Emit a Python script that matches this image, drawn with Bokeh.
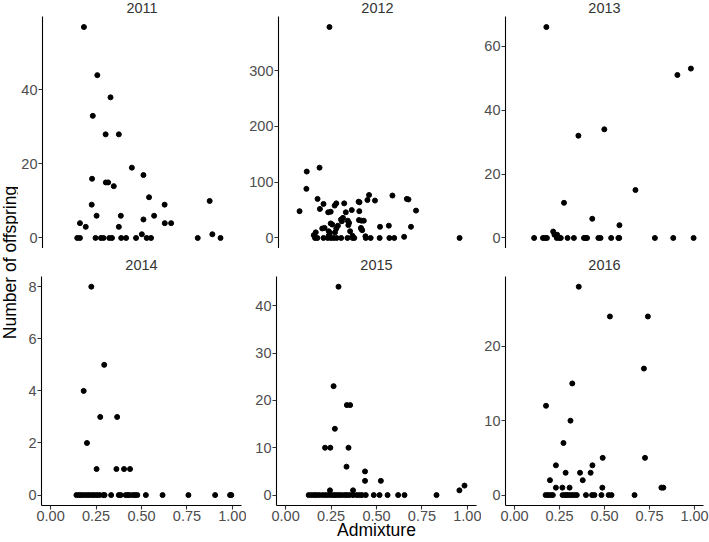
import math

from bokeh.plotting import figure
from bokeh.layouts import row, column
from bokeh.models import Range1d, FixedTicker, NumeralTickFormatter, Label
from bokeh.embed import file_html
from bokeh.resources import INLINE

# ---- data: admixture proportion vs number of offspring, one panel per year ----
adm_2011 = [0.179, 0.253, 0.326, 0.228, 0.299, 0.372, 0.444, 0.508, 0.224, 0.300,
            0.313, 0.344, 0.539, 0.874, 0.222, 0.625, 0.249, 0.383, 0.567, 0.508,
            0.157, 0.626, 0.661, 0.189, 0.372, 0.499, 0.889,
            0.142, 0.157, 0.243, 0.273, 0.287, 0.319, 0.334, 0.385, 0.412, 0.467,
            0.526, 0.550, 0.808, 0.934]
off_2011 = [57, 44, 38, 33, 28, 28, 19, 17, 16, 15,
            15, 14, 11, 10, 9, 9, 6, 6, 6, 5,
            4, 4, 4, 3, 3, 1, 1,
            0, 0, 0, 0, 0, 0, 0, 0, 0, 0,
            0, 0, 0, 0]

adm_2012 = [0.233, 0.178, 0.107, 0.105, 0.583, 0.453, 0.663, 0.672, 0.167, 0.444,
            0.486, 0.395, 0.400, 0.271, 0.315, 0.200, 0.262, 0.180, 0.357, 0.714,
            0.067, 0.399, 0.226, 0.240, 0.324,
            0.308, 0.297, 0.397, 0.335, 0.411, 0.424, 0.302, 0.342, 0.240, 0.249,
            0.338, 0.280, 0.563, 0.514, 0.686, 0.206, 0.408, 0.193, 0.271, 0.410,
            0.415, 0.229, 0.348, 0.157, 0.264, 0.236, 0.146, 0.229, 0.361, 0.433,
            0.648,
            0.153, 0.166, 0.200, 0.224, 0.242, 0.257, 0.273, 0.298, 0.333, 0.362,
            0.371, 0.435, 0.462, 0.512, 0.566, 0.593, 0.956]
off_2012 = [378, 126, 119, 88, 76, 77, 70, 69, 70, 68,
            67, 65, 64, 62, 62, 61, 58, 52, 50, 49,
            48, 48, 46, 47, 46,
            36, 33, 32, 31, 31, 31, 30, 27, 26, 24,
            23, 22, 22, 20, 20, 18, 18, 17, 17, 16,
            14, 12, 12, 10, 10, 9, 5, 4, 4, 3,
            2,
            0, 0, 0, 0, 0, 0, 0, 0, 0, 0,
            0, 0, 0, 0, 0, 0, 0]

adm_2013 = [0.177, 0.355, 0.499, 0.905, 0.980, 0.672, 0.275, 0.432, 0.583, 0.215,
            0.222, 0.237,
            0.109, 0.158, 0.170, 0.180, 0.235, 0.249, 0.257, 0.295, 0.330, 0.386,
            0.395, 0.403, 0.466, 0.478, 0.537, 0.577, 0.582, 0.780, 0.882, 0.995]
off_2013 = [66, 32, 34, 51, 53, 15, 11, 6, 4, 2,
            1, 1,
            0, 0, 0, 0, 0, 0, 0, 0, 0, 0,
            0, 0, 0, 0, 0, 0, 0, 0, 0, 0]

adm_2014 = [0.224, 0.295, 0.182, 0.273, 0.366, 0.200, 0.253, 0.362, 0.404, 0.437,
            0.142, 0.155, 0.168, 0.182, 0.197, 0.211, 0.226, 0.240, 0.255, 0.270,
            0.290, 0.297, 0.333, 0.375, 0.386, 0.413, 0.424, 0.435, 0.452, 0.464,
            0.477, 0.524, 0.616, 0.758, 0.905, 0.987, 0.994]
off_2014 = [8, 5, 4, 3, 3, 2, 1, 1, 1, 1,
            0, 0, 0, 0, 0, 0, 0, 0, 0, 0,
            0, 0, 0, 0, 0, 0, 0, 0, 0, 0,
            0, 0, 0, 0, 0, 0, 0]

adm_2015 = [0.291, 0.264, 0.271, 0.337, 0.355, 0.217, 0.246, 0.346, 0.335, 0.437,
            0.437, 0.524, 0.244, 0.371, 0.956, 0.984,
            0.127, 0.142, 0.157, 0.171, 0.186, 0.204, 0.220, 0.235, 0.251, 0.266,
            0.279, 0.293, 0.308, 0.324, 0.337, 0.352, 0.371, 0.391, 0.406, 0.420,
            0.441, 0.485, 0.517, 0.561, 0.619, 0.654, 0.830]
off_2015 = [44, 23, 14, 19, 19, 10, 10, 10, 6, 5,
            3, 3, 1, 1, 1, 2,
            0, 0, 0, 0, 0, 0, 0, 0, 0, 0,
            0, 0, 0, 0, 0, 0, 0, 0, 0, 0,
            0, 0, 0, 0, 0, 0, 0]

adm_2016 = [0.357, 0.530, 0.741, 0.719, 0.321, 0.175, 0.311, 0.272, 0.490, 0.725,
            0.230, 0.433, 0.364, 0.284, 0.423, 0.197, 0.379, 0.230, 0.266, 0.306,
            0.488, 0.816, 0.827,
            0.173, 0.186, 0.200, 0.213, 0.267, 0.281, 0.292, 0.305, 0.319, 0.333,
            0.346, 0.397, 0.431, 0.444, 0.483, 0.523, 0.539, 0.667]
off_2016 = [28, 24, 24, 17, 15, 12, 10, 7, 5, 5,
            4, 4, 3, 3, 3, 2, 2, 1, 1, 1,
            1, 1, 1,
            0, 0, 0, 0, 0, 0, 0, 0, 0, 0,
            0, 0, 0, 0, 0, 0, 0, 0]

years = ["2011", "2012", "2013", "2014", "2015", "2016"]
y_ticks = {
    "2011": [0, 20, 40],
    "2012": [0, 100, 200, 300],
    "2013": [0, 20, 40, 60],
    "2014": [0, 2, 4, 6, 8],
    "2015": [0, 10, 20, 30, 40],
    "2016": [0, 10, 20],
}
x_ticks = [0.0, 0.25, 0.5, 0.75, 1.0]
x_label = "Admixture"
y_label = "Number of offspring"

FONT = "Liberation Sans"


def style_axis(ax):
    ax.axis_line_color = "black"
    ax.axis_line_width = 1.1
    ax.major_tick_line_color = "#333333"
    ax.major_tick_line_width = 1.1
    ax.major_tick_in = 0
    ax.major_tick_out = 4
    ax.minor_tick_line_color = None
    ax.major_label_text_color = "#4d4d4d"
    ax.major_label_text_font = FONT
    ax.major_label_text_font_size = "14.5px"
    ax.major_label_standoff = 1


def panel(year, adm, off, width, left, right, strip_h, panel_h, bottom, bottom_row):
    """One facet: the frame holds a strip of strip_h px for the year label
    on top of a panel_h px data area; the y axis line is bounded to the data."""
    lo, hi = min(off), max(off)
    pad = 0.05 * (hi - lo)
    y0, y1 = lo - pad, hi + pad
    y_top = y1 + strip_h * (y1 - y0) / panel_h
    p = figure(
        width=width, height=strip_h + panel_h + bottom,
        x_range=Range1d(-0.05, 1.05), y_range=Range1d(y0, y_top),
        toolbar_location=None, output_backend="svg",
        x_axis_location="below" if bottom_row else None,
        min_border_left=left, min_border_right=right,
        min_border_top=0, min_border_bottom=bottom,
    )
    p.outline_line_color = None
    p.grid.visible = False

    p.scatter(adm, off, size=5, color="black")

    style_axis(p.yaxis[0])
    p.yaxis[0].ticker = FixedTicker(ticks=y_ticks[year])
    p.yaxis[0].bounds = (y0, y1)
    if bottom_row:
        style_axis(p.xaxis[0])
        p.xaxis[0].ticker = FixedTicker(ticks=x_ticks)
        p.xaxis[0].formatter = NumeralTickFormatter(format="0.00")

    # facet strip label above the data area
    p.add_layout(Label(
        x=0.5, y=y1, y_offset=11 if bottom_row else 9, text=year,
        text_align="center", text_baseline="middle",
        text_font=FONT, text_font_size="14.5px", text_color="#333333",
    ))
    return p


data = {
    "2011": (adm_2011, off_2011), "2012": (adm_2012, off_2012),
    "2013": (adm_2013, off_2013), "2014": (adm_2014, off_2014),
    "2015": (adm_2015, off_2015), "2016": (adm_2016, off_2016),
}

# column geometry: (figure width, left border, right border); frames are 200 px
cols = [(228, 23, 5), (235, 30, 5), (228, 22, 6)]

top_row = []
bottom_row = []
for i, yr in enumerate(years):
    w, l, r = cols[i % 3]
    adm, off = data[yr]
    if i < 3:
        top_row.append(panel(yr, adm, off, w, l, r, 16, 232, 0, False))
    else:
        bottom_row.append(panel(yr, adm, off, w, l, r, 28, 231, 35, True))

# shared x-axis title under the middle bottom panel
mid = bottom_row[1]
mid.xaxis[0].axis_label = x_label
mid.xaxis[0].axis_label_standoff = -4
mid.xaxis[0].axis_label_text_font = FONT
mid.xaxis[0].axis_label_text_font_size = "17.5px"
mid.xaxis[0].axis_label_text_font_style = "normal"
mid.xaxis[0].axis_label_text_color = "black"

# strip holding the shared y-axis title
yfig = figure(
    width=18, height=542, x_range=Range1d(0, 18), y_range=Range1d(0, 542),
    toolbar_location=None, output_backend="svg",
    x_axis_location=None, y_axis_location=None, min_border=0,
)
yfig.outline_line_color = None
yfig.grid.visible = False
yfig.add_layout(Label(
    x=9, y=280, angle=math.pi / 2, text=y_label,
    text_align="center", text_baseline="middle",
    text_font=FONT, text_font_size="17.5px", text_color="black",
))

layout = row(yfig, column(row(*top_row), row(*bottom_row)))

with open("out.html", "w") as f:
    f.write(file_html(layout, INLINE))
